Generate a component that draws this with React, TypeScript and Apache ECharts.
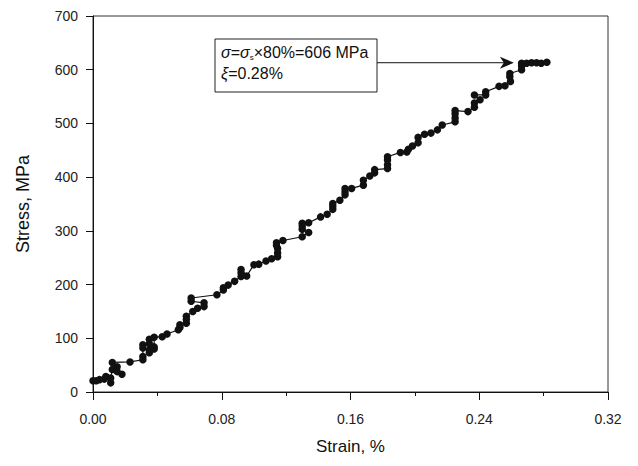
import React, { useEffect, useRef } from "react";
import * as echarts from "echarts";

const strain = [
  0.0, 0.002, 0.004, 0.007, 0.008, 0.011, 0.011, 0.012, 0.015, 0.015, 0.018, 0.012, 0.023,
  0.031, 0.031, 0.031, 0.031, 0.035, 0.035, 0.035, 0.035, 0.038, 0.038, 0.038, 0.043, 0.046,
  0.053, 0.054, 0.054, 0.058, 0.058, 0.058, 0.062, 0.065, 0.069, 0.069, 0.061, 0.061, 0.077,
  0.081, 0.081, 0.084, 0.088, 0.092, 0.092, 0.092, 0.0955, 0.1, 0.103, 0.1075, 0.111, 0.1147,
  0.1147, 0.1147, 0.114, 0.114, 0.118, 0.13, 0.134, 0.13, 0.13, 0.13, 0.134, 0.1414, 0.1455,
  0.149, 0.149, 0.149, 0.1534, 0.1566, 0.1566, 0.1566, 0.1607, 0.168, 0.168, 0.172, 0.175,
  0.175, 0.183, 0.183, 0.183, 0.183, 0.191, 0.195, 0.196, 0.1985, 0.202, 0.202, 0.206, 0.21,
  0.214, 0.217, 0.225, 0.225, 0.225, 0.225, 0.233, 0.237, 0.237, 0.2405, 0.237, 0.244, 0.244,
  0.2523, 0.256, 0.2594, 0.259, 0.259, 0.2663, 0.2663, 0.2663, 0.2694, 0.2725, 0.2756, 0.2785,
  0.282,
];
const stress = [
  21, 21, 23, 24, 29, 17, 26, 42, 47, 38, 33, 55, 56,
  60, 66, 82, 88, 73, 78, 90, 98, 80, 84, 102, 103, 108,
  116, 120, 125, 128, 135, 141, 150, 156, 159, 166, 169, 175, 181,
  190, 194, 199, 206, 215, 222, 228, 216, 237, 238, 244, 248, 252,
  259, 267, 273, 278, 282, 289, 297, 303, 309, 314, 315, 326, 331,
  340, 346, 351, 357, 367, 373, 379, 379, 385, 394, 402, 408,
  414, 416, 423, 432, 438, 446, 447, 452, 458, 464, 474, 480, 482,
  488, 497, 503, 510, 518, 524, 522, 530, 538, 544, 553, 553, 559,
  569, 570, 578, 587, 593, 600, 607, 612, 612, 613, 613, 612,
  614,
];
const xTicks = { min: 0, max: 0.32, interval: 0.08 };
const yTicks = { min: 0, max: 700, interval: 100 };
const arrowTarget = [0.2615, 613];

export default function App() {
  const ref = useRef<HTMLDivElement>(null);
  useEffect(() => {
    if (!ref.current) return;
    const chart = echarts.init(ref.current, null, { renderer: "svg" });
    const font = "'Liberation Sans', Arial, sans-serif";
    chart.setOption({
      animation: false,
      grid: {
        left: 93,
        right: 30,
        top: 16,
        bottom: 74,
        show: true,
        borderColor: "#333",
        borderWidth: 1,
      },
      xAxis: {
        type: "value",
        min: xTicks.min,
        max: xTicks.max,
        interval: xTicks.interval,
        name: "Strain, %",
        nameLocation: "middle",
        nameGap: 46,
        nameTextStyle: { fontSize: 17, color: "#111", fontFamily: font },
        axisLine: { show: true, lineStyle: { color: "#111", width: 1 } },
        axisTick: { show: true, inside: false, length: 8, lineStyle: { color: "#111" } },
        minorTick: { show: true, splitNumber: 2, length: 4, lineStyle: { color: "#111" } },
        axisLabel: {
          fontSize: 14,
          color: "#222",
          fontFamily: font,
          margin: 20,
          formatter: (v: number) => v.toFixed(2),
        },
        splitLine: { show: false },
      },
      yAxis: {
        type: "value",
        min: yTicks.min,
        max: yTicks.max,
        interval: yTicks.interval,
        name: "Stress, MPa",
        nameLocation: "middle",
        nameGap: 61,
        nameTextStyle: { fontSize: 18, color: "#111", fontFamily: font },
        axisLine: { show: true, lineStyle: { color: "#111", width: 1 } },
        axisTick: { show: true, inside: false, length: 7, lineStyle: { color: "#111" } },
        axisLabel: { fontSize: 14, color: "#222", fontFamily: font, margin: 15 },
        splitLine: { show: false },
      },
      series: [
        {
          type: "line",
          data: strain.map((x, i) => [x, stress[i]]),
          symbol: "circle",
          symbolSize: 7.5,
          showSymbol: true,
          itemStyle: { color: "#111" },
          lineStyle: { color: "#111", width: 1.2 },
        },
      ],
    });
    const tip = chart.convertToPixel({ gridIndex: 0 }, arrowTarget) as number[];
    const boxX = 215, boxY = 39, boxW = 162, boxH = 53;
    const ay = tip[1];
    chart.setOption({
      graphic: [
        {
          type: "rect",
          shape: { x: boxX, y: boxY, width: boxW, height: boxH },
          style: { fill: "#fff", stroke: "#222", lineWidth: 1 },
          z: 10,
        },
        {
          type: "text",
          x: boxX + 6,
          y: boxY + 13,
          z: 11,
          style: {
            text: "{i|σ}={i|σ}{sub|s}×80%=606 MPa",
            fontSize: 16,
            fontFamily: font,
            fill: "#111",
            verticalAlign: "middle",
            rich: {
              i: { fontStyle: "italic", fontSize: 16, fontFamily: font, fill: "#111" },
              sub: { fontSize: 8, fontFamily: font, fill: "#111", verticalAlign: "bottom", padding: [10, 0, 0, 0] },
            },
          },
        },
        {
          type: "text",
          x: boxX + 6,
          y: boxY + 34,
          z: 11,
          style: {
            text: "{i|ξ}=0.28%",
            fontSize: 16,
            fontFamily: font,
            fill: "#111",
            verticalAlign: "middle",
            rich: {
              i: { fontStyle: "italic", fontSize: 16, fontFamily: font, fill: "#111" },
            },
          },
        },
        {
          type: "line",
          z: 11,
          shape: { x1: boxX + boxW, y1: ay, x2: tip[0] - 4, y2: ay },
          style: { stroke: "#111", lineWidth: 1 },
        },
        {
          type: "polygon",
          z: 11,
          shape: {
            points: [
              [tip[0], ay],
              [tip[0] - 14, ay - 6],
              [tip[0] - 10, ay],
              [tip[0] - 14, ay + 6],
            ],
          },
          style: { fill: "#111" },
        },
      ],
    });
    return () => chart.dispose();
  }, []);
  return (
    <div
      ref={ref}
      style={{ position: "fixed", left: 0, top: 0, width: 638, height: 466, background: "#fff" }}
    />
  );
}
